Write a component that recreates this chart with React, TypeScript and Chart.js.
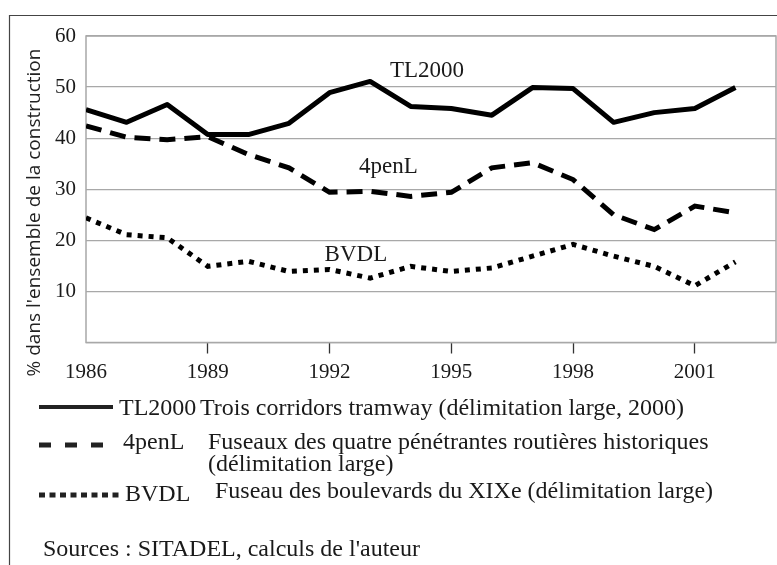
import React, { useEffect, useRef } from "react";
import { Chart, registerables } from "chart.js";

Chart.register(...registerables);

// ---- data ----
const years = [1986, 1987, 1988, 1989, 1990, 1991, 1992, 1993, 1994, 1995, 1996, 1997, 1998, 1999, 2000, 2001, 2002];
const tl2000 = [45.6, 43.1, 46.6, 40.7, 40.7, 42.9, 48.9, 51.1, 46.2, 45.8, 44.5, 49.9, 49.7, 43.1, 45.0, 45.8, 49.9];
const penL = [42.4, 40.2, 39.7, 40.3, 36.8, 34.2, 29.4, 29.6, 28.6, 29.4, 34.2, 35.2, 31.9, 25.0, 22.1, 26.7, 25.4];
const bvdl = [24.4, 21.1, 20.5, 14.9, 15.9, 13.9, 14.3, 12.6, 14.9, 13.9, 14.6, 16.9, 19.2, 16.9, 14.9, 11.1, 15.8];

const seriesNames = ["TL2000", "4penL", "BVDL"];
const seriesDescriptions = [
  "Trois corridors tramway (délimitation large, 2000)",
  "Fuseaux des quatre pénétrantes routières historiques",
  "Fuseau des boulevards du XIXe (délimitation large)",
];
const descriptionSecondLine = "(délimitation large)";
const sourceText = "Sources : SITADEL, calculs de l'auteur";
const yTitle = "% dans l'ensemble de la construction";

// in-plot label anchors (data coordinates)
const labelX = [1994.4, 1993.45, 1992.65];
const labelY = [53.1, 34.4, 17.2];

const xTicks = [1986, 1989, 1992, 1995, 1998, 2001];
const xMin = 1986;
const xMax = 2003;
const yMin = 0;
const yMax = 60;
const yStep = 10;

const SERIF = '"Liberation Serif", "Times New Roman", serif';
const SANS = '"Open Sans", "DejaVu Sans", sans-serif';

const decorPlugin = {
  id: "decor",
  beforeDatasetsDraw(chart: any) {
    const { ctx, chartArea: a } = chart;
    ctx.save();
    ctx.strokeStyle = "#a8a8a8";
    ctx.lineWidth = 1.5;
    ctx.strokeRect(a.left, a.top, a.right - a.left, a.bottom - a.top);
    ctx.restore();
  },
  afterDraw(chart: any) {
    const { ctx } = chart;
    const xs = chart.scales.x;
    const ys = chart.scales.y;
    ctx.save();
    // outer frame
    ctx.strokeStyle = "#444";
    ctx.lineWidth = 1.2;
    ctx.beginPath();
    ctx.moveTo(9.5, 565);
    ctx.lineTo(9.5, 15.5);
    ctx.lineTo(777, 15.5);
    ctx.stroke();

    // y title
    ctx.save();
    ctx.translate(35, 212.5);
    ctx.rotate(-Math.PI / 2);
    ctx.fillStyle = "#222";
    ctx.font = `19px ${SANS}`;
    ctx.textAlign = "center";
    ctx.textBaseline = "middle";
    ctx.fillText(yTitle, 0, 0);
    ctx.restore();

    // in-plot labels
    ctx.fillStyle = "#1a1a1a";
    ctx.font = `23px ${SERIF}`;
    ctx.textAlign = "center";
    ctx.textBaseline = "middle";
    for (let i = 0; i < seriesNames.length; i++) {
      ctx.fillText(seriesNames[i], xs.getPixelForValue(labelX[i]), ys.getPixelForValue(labelY[i]));
    }

    // legend
    ctx.textAlign = "left";
    ctx.textBaseline = "alphabetic";
    ctx.font = `24px ${SERIF}`;
    ctx.strokeStyle = "#222";
    // row 1 solid
    ctx.lineWidth = 4;
    ctx.setLineDash([]);
    ctx.beginPath();
    ctx.moveTo(39, 407);
    ctx.lineTo(113, 407);
    ctx.stroke();
    ctx.fillText(seriesNames[0], 119, 415);
    ctx.fillText(seriesDescriptions[0], 200, 415);
    // row 2 dashed
    ctx.lineWidth = 5;
    ctx.setLineDash([12, 14]);
    ctx.beginPath();
    ctx.moveTo(39, 445);
    ctx.lineTo(103, 445);
    ctx.stroke();
    ctx.fillText(seriesNames[1], 123, 449);
    ctx.fillText(seriesDescriptions[1], 208, 449);
    ctx.fillText(descriptionSecondLine, 208, 471);
    // row 3 dotted
    ctx.setLineDash([6, 4.5]);
    ctx.beginPath();
    ctx.moveTo(39, 495);
    ctx.lineTo(123, 495);
    ctx.stroke();
    ctx.setLineDash([]);
    ctx.fillText(seriesNames[2], 125, 501);
    ctx.fillText(seriesDescriptions[2], 215, 498);
    // source
    ctx.fillText(sourceText, 43, 556);
    ctx.restore();
  },
};

export default function App() {
  const ref = useRef<HTMLCanvasElement | null>(null);
  useEffect(() => {
    document.body.style.margin = "0";
    const canvas = ref.current!;
    const mk = (vals: number[]) => years.map((y, i) => ({ x: y, y: vals[i] }));
    const chart = new Chart(canvas, {
      type: "line",
      data: {
        datasets: [
          {
            label: seriesNames[0],
            data: mk(tl2000),
            borderColor: "#000",
            borderWidth: 5,
            pointRadius: 0,
            tension: 0,
            borderJoinStyle: "round",
            fill: false,
          },
          {
            label: seriesNames[1],
            data: mk(penL),
            borderColor: "#000",
            borderWidth: 5,
            borderDash: [16, 9],
            pointRadius: 0,
            tension: 0,
            fill: false,
          },
          {
            label: seriesNames[2],
            data: mk(bvdl),
            borderColor: "#000",
            borderWidth: 5,
            borderDash: [5, 6],
            pointRadius: 0,
            tension: 0,
            fill: false,
          },
        ],
      },
      options: {
        responsive: false,
        animation: false,
        devicePixelRatio: 1,
        layout: { padding: { top: 36, right: 1, left: 0, bottom: 0 } },
        plugins: { legend: { display: false }, title: { display: false }, tooltip: { enabled: false } },
        scales: {
          x: {
            type: "linear",
            min: xMin,
            max: xMax,
            afterBuildTicks: (scale: any) => {
              scale.ticks = xTicks.map((v) => ({ value: v }));
            },
            afterFit: (scale: any) => {
              scale.height = 222.5;
            },
            border: { display: false },
            grid: {
              drawOnChartArea: false,
              drawTicks: true,
              tickLength: 11,
              tickWidth: 1.3,
              tickColor: (c: any) => (c.index === 0 ? "rgba(0,0,0,0)" : "#333"),
            },
            ticks: {
              autoSkip: false,
              maxRotation: 0,
              padding: 6,
              color: "#1a1a1a",
              font: { family: SERIF, size: 21 },
              callback: (v: any) => String(v),
            },
          },
          y: {
            min: yMin,
            max: yMax,
            afterFit: (scale: any) => {
              scale.width = 86;
            },
            border: { display: false },
            grid: { color: "#a8a8a8", lineWidth: 1.3, drawTicks: false },
            ticks: {
              stepSize: yStep,
              padding: 10,
              color: "#1a1a1a",
              font: { family: SERIF, size: 21 },
              callback: (v: any) => (v === 0 ? "" : String(v)),
            },
          },
        },
      },
      plugins: [decorPlugin],
    });
    return () => chart.destroy();
  }, []);
  return <canvas ref={ref} width={777} height={565} style={{ display: "block" }} />;
}
